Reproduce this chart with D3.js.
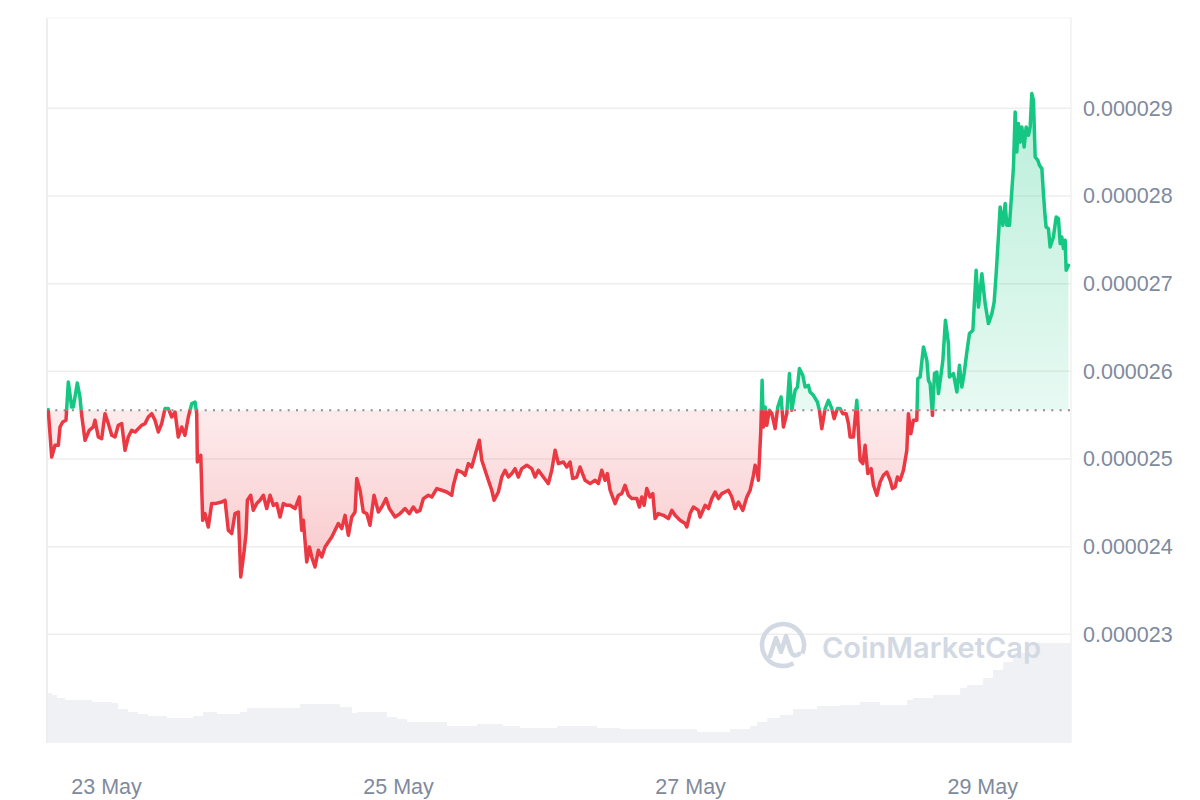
<!DOCTYPE html>
<html>
<head>
<meta charset="utf-8">
<script src="https://cdn.jsdelivr.net/npm/d3@7"></script>
<style>
  html, body { margin: 0; padding: 0; background: #ffffff; }
  svg { display: block; }
</style>
</head>
<body>
<div id="chart"></div>
<script>
// ---------------- DATA ----------------
// Hours elapsed since the first sample (22 May 14:18 local)
const priceHours = [0.2,0.77,1.32,1.86,2.14,2.58,3.12,3.5,4.06,4.32,4.98,5.42,5.7,6.25,6.95,7.61,7.89,8.43,8.99,9.53,10.08,10.64,11.18,11.72,12.28,12.82,13.36,13.92,14.47,15.01,15.57,16.11,16.65,17.21,17.75,18.3,18.85,19.4,19.94,20.5,21.04,21.58,22.14,22.68,23.23,23.79,24.33,24.61,24.71,25.27,25.59,25.97,26.51,27.07,27.62,28.72,29.26,29.8,30.36,30.9,31.45,31.84,32.38,32.71,32.93,33.48,33.91,34.47,35.01,35.56,36.11,36.66,37.2,37.76,38.3,38.84,39.4,39.94,40.77,41.47,41.87,42.13,42.69,43.12,43.51,44.05,44.6,45.16,45.7,46.24,46.8,47.34,47.88,48.44,48.99,49.53,50.09,50.63,50.91,51.45,51.99,52.55,53.09,53.75,54.46,55.02,55.72,56.27,57.2,58.03,58.85,59.55,60.21,60.77,61.31,61.86,62.68,63.24,64.06,64.88,65.7,66.52,66.79,67.45,68.17,68.71,69.25,69.81,70.35,71.06,71.46,72,72.54,73.1,73.48,74.18,74.74,75.29,75.83,76.39,76.93,77.47,78.03,78.85,79.67,80.22,80.76,81.58,82.4,82.96,83.51,84.05,84.87,85.43,85.97,86.41,87.07,87.61,88.44,89.26,90.08,90.62,91.18,91.72,92.1,92.55,93.37,93.91,94.47,95.01,95.55,96.11,96.93,97.36,97.76,98.14,98.58,99.12,99.57,99.94,100.48,101.31,102.13,102.69,103.23,104.05,104.87,105.15,105.7,106.24,107.06,107.34,108.16,108.71,109.26,109.81,110.35,110.91,111.99,112.55,113.09,113.64,114.36,115.02,115.56,116.1,116.38,116.76,116.92,117.32,117.53,117.75,118.03,118.3,118.73,119.13,119.67,120.11,120.65,121.03,121.59,122.02,122.41,122.96,123.34,123.66,124.22,124.6,125.14,125.42,125.96,126.62,126.95,127.34,127.89,128.43,128.99,129.37,129.91,130.35,130.8,131.34,131.72,132,132.54,133.1,133.43,133.64,134.09,134.46,134.91,135.45,135.83,136.39,136.93,137.47,138.03,138.57,138.95,139.39,139.77,140.22,140.76,141.32,141.58,141.98,142.4,142.96,143.12,143.5,144.05,144.61,144.87,145.15,145.53,145.86,146.25,146.51,146.96,147.24,147.66,148.16,148.32,148.98,149.54,149.97,150.36,150.74,151.18,151.61,152.17,152.38,152.71,153.09,153.37,153.65,154.19,154.73,155.29,155.67,156,156.37,156.65,157.1,157.48,157.76,158.18,158.58,158.84,159.12,159.4,159.66,159.94,160.22,160.6,160.93,161.31,161.59,161.86,162.13,162.41,162.85,163.11,163.51,163.77,164.05,164.21,164.59,164.87,165.41,165.86,166.24,166.52,166.79,167.06,167.34,167.5,167.89];

// Price in millionths of a US dollar (x 1e-6 USD)
const priceMicroUSD = [25.563,25.022,25.156,25.156,25.365,25.422,25.441,25.878,25.593,25.593,25.867,25.707,25.498,25.213,25.327,25.365,25.441,25.251,25.232,25.517,25.403,25.27,25.251,25.384,25.403,25.099,25.251,25.327,25.308,25.346,25.384,25.403,25.479,25.517,25.441,25.308,25.403,25.575,25.575,25.479,25.536,25.251,25.365,25.27,25.479,25.632,25.65,25.517,24.965,25.042,24.3,24.377,24.224,24.491,24.491,24.509,24.529,24.186,24.149,24.377,24.395,23.654,23.939,24.149,24.529,24.586,24.414,24.491,24.529,24.586,24.434,24.586,24.471,24.491,24.338,24.491,24.471,24.471,24.434,24.566,24.186,24.3,23.825,23.996,23.882,23.768,23.958,23.882,23.996,24.053,24.11,24.186,24.263,24.206,24.357,24.129,24.338,24.395,24.776,24.643,24.395,24.377,24.243,24.586,24.395,24.452,24.548,24.434,24.338,24.377,24.434,24.377,24.452,24.395,24.414,24.548,24.586,24.566,24.662,24.643,24.623,24.586,24.7,24.871,24.851,24.814,24.947,24.908,25.042,25.213,24.985,24.871,24.757,24.643,24.529,24.623,24.794,24.871,24.794,24.833,24.89,24.794,24.89,24.928,24.89,24.794,24.871,24.794,24.719,24.871,25.099,24.947,24.965,24.908,24.965,24.776,24.794,24.908,24.757,24.719,24.757,24.719,24.871,24.757,24.833,24.643,24.491,24.586,24.605,24.7,24.586,24.548,24.548,24.452,24.566,24.471,24.662,24.566,24.605,24.32,24.377,24.357,24.32,24.414,24.357,24.3,24.263,24.224,24.377,24.452,24.414,24.338,24.471,24.434,24.548,24.623,24.548,24.605,24.643,24.566,24.434,24.509,24.414,24.566,24.643,24.814,24.928,24.833,24.757,25.327,25.897,25.365,25.593,25.384,25.555,25.517,25.346,25.593,25.707,25.365,25.517,25.974,25.555,25.783,25.821,26.031,25.954,25.821,25.84,25.764,25.726,25.65,25.555,25.346,25.575,25.669,25.575,25.46,25.575,25.575,25.517,25.517,25.403,25.251,25.251,25.669,25.213,24.985,24.947,25.156,24.833,24.89,24.7,24.586,24.737,24.814,24.851,24.757,24.662,24.68,24.794,24.757,24.871,25.099,25.517,25.289,25.441,25.441,25.917,25.935,26.277,26.125,25.897,25.86,25.498,25.974,25.992,25.746,25.974,26.125,26.582,26.316,25.935,25.974,25.764,26.068,25.821,25.974,26.22,26.43,26.468,26.733,27.152,26.733,26.924,27.114,26.772,26.544,26.658,26.79,27.114,27.532,27.874,27.665,27.913,27.665,27.665,28.065,28.33,28.958,28.502,28.826,28.616,28.787,28.559,28.787,28.692,28.787,29.168,29.091,28.445,28.407,28.35,28.312,28.027,27.76,27.646,27.628,27.418,27.532,27.76,27.742,27.457,27.532,27.4,27.494,27.152,27.209];

// Reference (opening) price, millionths of USD
const baselineMicroUSD = 25.555;

// Trading volume (relative units) - step starts in hours since first sample
const volumeHours = [0,0.82,1.64,2.96,7.4,10.68,11.67,13.31,14.96,16.6,19.73,24,25.64,27.94,31.73,32.88,41.59,48.16,50.14,50.96,55.89,57.53,59.18,65.75,70.68,74.96,77.75,83.83,90.41,94.19,106.85,112.27,115.56,116.71,118.36,120.49,122.63,126.57,130.35,133.64,136.93,141.37,142.35,145.64,150.08,151.23,153.86,155.5,157.15,158.79,161.09,162.74,168.3];
const volumeValues = [50,48,45,43,41,40,34,31,29,27,25,27,31,29,31,35,39,36,30,31,26,24,21,17,19,17,15,17,15,14,11,14,17,21,25,28,34,37,38,41,38,43,45,48,55,58,65,73,81,90,100,100,100];

const priceTicks = [0.000023, 0.000024, 0.000025, 0.000026, 0.000027, 0.000028, 0.000029];
const priceTickLabels = ["0.000023","0.000024","0.000025","0.000026","0.000027","0.000028","0.000029"];
const dateTicks = ["2024-05-23","2024-05-25","2024-05-27","2024-05-29"];
const dateTickLabels = ["23 May","25 May","27 May","29 May"];
const totalHours = 168.3;
const watermarkText = "CoinMarketCap";

// ---------------- CHART ----------------
const W = 1200, H = 800;
const pL = 47, pR = 1071, pT = 18, pB = 743;
const GREEN = "#16c784", RED = "#ea3943";
const LABEL = "#808a9d";
const FS = 21.5;

const t0 = new Date(2024, 4, 22, 14, 18);
const toDate = h => new Date(t0.getTime() + h * 3600e3);
const prices = priceHours.map((h, i) => ({ t: toDate(h), v: priceMicroUSD[i] * 1e-6 }));
const volumes = volumeHours.map((h, i) => ({ t: toDate(h), v: volumeValues[i] }));
const baseline = baselineMicroUSD * 1e-6;

const x = d3.scaleTime().domain([t0, toDate(totalHours)]).range([pL, pR]);
const y = d3.scaleLinear().domain([0.00002176, 0.00003003]).range([pB, pT]);
const yVol = d3.scaleLinear().domain([0, 110]).range([pB, pB - 110]);

const svg = d3.select("#chart").append("svg").attr("width", W).attr("height", H)
  .style("font-family", "'Liberation Sans', Arial, Helvetica, sans-serif");

const defs = svg.append("defs");
const by = y(baseline);
defs.append("clipPath").attr("id", "clipUp").append("rect")
  .attr("x", pL).attr("y", 0).attr("width", pR - pL).attr("height", by);
defs.append("clipPath").attr("id", "clipDown").append("rect")
  .attr("x", pL).attr("y", by).attr("width", pR - pL).attr("height", H - by);

const gUp = defs.append("linearGradient").attr("id", "gradUp")
  .attr("gradientUnits", "userSpaceOnUse").attr("x1", 0).attr("x2", 0)
  .attr("y1", y(d3.max(prices, d => d.v))).attr("y2", by);
gUp.append("stop").attr("offset", "0%").attr("stop-color", GREEN).attr("stop-opacity", 0.3);
gUp.append("stop").attr("offset", "100%").attr("stop-color", GREEN).attr("stop-opacity", 0.1);

const gDown = defs.append("linearGradient").attr("id", "gradDown")
  .attr("gradientUnits", "userSpaceOnUse").attr("x1", 0).attr("x2", 0)
  .attr("y1", by).attr("y2", y(d3.min(prices, d => d.v)));
gDown.append("stop").attr("offset", "0%").attr("stop-color", RED).attr("stop-opacity", 0.1);
gDown.append("stop").attr("offset", "100%").attr("stop-color", RED).attr("stop-opacity", 0.28);

// volume area
svg.append("path").datum(volumes)
  .attr("fill", "#eff1f5")
  .attr("d", d3.area().curve(d3.curveStepAfter).x(d => x(d.t)).y0(pB).y1(d => yVol(d.v)));

// frame lines
svg.append("line").attr("x1", pL).attr("x2", pL).attr("y1", pT).attr("y2", pB)
  .attr("stroke", "#eeeeee").attr("stroke-width", 2);
svg.append("line").attr("x1", pR).attr("x2", pR).attr("y1", pT).attr("y2", pB)
  .attr("stroke", "#f1f1f1").attr("stroke-width", 1.5);
svg.append("line").attr("x1", pL).attr("x2", pR).attr("y1", pT).attr("y2", pT)
  .attr("stroke", "#f3f3f3").attr("stroke-width", 1);

// horizontal gridlines
svg.append("g").selectAll("line").data(priceTicks).join("line")
  .attr("x1", pL).attr("x2", pR)
  .attr("y1", d => y(d)).attr("y2", d => y(d))
  .attr("stroke", "#eeeeee").attr("stroke-width", 1.5);

// watermark
const wm = svg.append("g");
wm.append("circle").attr("cx", 783).attr("cy", 645).attr("r", 21)
  .attr("fill", "none").attr("stroke", "#d3d9e3").attr("stroke-width", 4.5)
  .attr("stroke-dasharray", "118,14").attr("transform", "rotate(60,783,645)");
wm.append("path")
  .attr("d", "M770,656 L776,638 L781,652 L786,636 L791,652 Q794,658 799,654")
  .attr("fill", "none").attr("stroke", "#d3d9e3").attr("stroke-width", 4.5)
  .attr("stroke-linejoin", "round").attr("stroke-linecap", "round");
wm.append("text").attr("x", 822).attr("y", 658).text(watermarkText)
  .attr("fill", "#d3d9e3").attr("font-size", 29).attr("font-weight", 600)
  .style("font-family", "Inter, 'Noto Sans', sans-serif");

// price areas
const area = d3.area().x(d => x(d.t)).y0(by).y1(d => y(d.v));
svg.append("path").datum(prices).attr("d", area)
  .attr("fill", "url(#gradUp)").attr("clip-path", "url(#clipUp)");
svg.append("path").datum(prices).attr("d", area)
  .attr("fill", "url(#gradDown)").attr("clip-path", "url(#clipDown)");

// baseline dotted
svg.append("line").attr("x1", pL).attr("x2", pR).attr("y1", by).attr("y2", by)
  .attr("stroke", "#8d8d8d").attr("stroke-width", 2).attr("stroke-dasharray", "2,6.3");

// price lines
const line = d3.line().x(d => x(d.t)).y(d => y(d.v));
svg.append("path").datum(prices).attr("d", line)
  .attr("fill", "none").attr("stroke", GREEN).attr("stroke-width", 3.5)
  .attr("stroke-linejoin", "round").attr("stroke-linecap", "round")
  .attr("clip-path", "url(#clipUp)");
svg.append("path").datum(prices).attr("d", line)
  .attr("fill", "none").attr("stroke", RED).attr("stroke-width", 3.5)
  .attr("stroke-linejoin", "round").attr("stroke-linecap", "round")
  .attr("clip-path", "url(#clipDown)");

// y axis (right)
const yAxis = d3.axisRight(y).tickValues(priceTicks)
  .tickFormat((d, i) => priceTickLabels[i]).tickSize(0).tickPadding(12);
const gy = svg.append("g").attr("transform", `translate(${pR},0)`).call(yAxis);
gy.select(".domain").remove();
gy.selectAll("text").attr("fill", LABEL).attr("font-size", FS)
  .style("font-family", "'Liberation Sans', Arial, sans-serif");

// x axis
const dateTickDates = dateTicks.map(s => { const p = s.split("-").map(Number); return new Date(p[0], p[1] - 1, p[2]); });
const xAxis = d3.axisBottom(x).tickValues(dateTickDates)
  .tickFormat((d, i) => dateTickLabels[i]).tickSize(0).tickPadding(36);
const gx = svg.append("g").attr("transform", `translate(0,${pB})`).call(xAxis);
gx.select(".domain").remove();
gx.selectAll("text").attr("fill", LABEL).attr("font-size", FS)
  .style("font-family", "'Liberation Sans', Arial, sans-serif");
</script>
</body>
</html>
